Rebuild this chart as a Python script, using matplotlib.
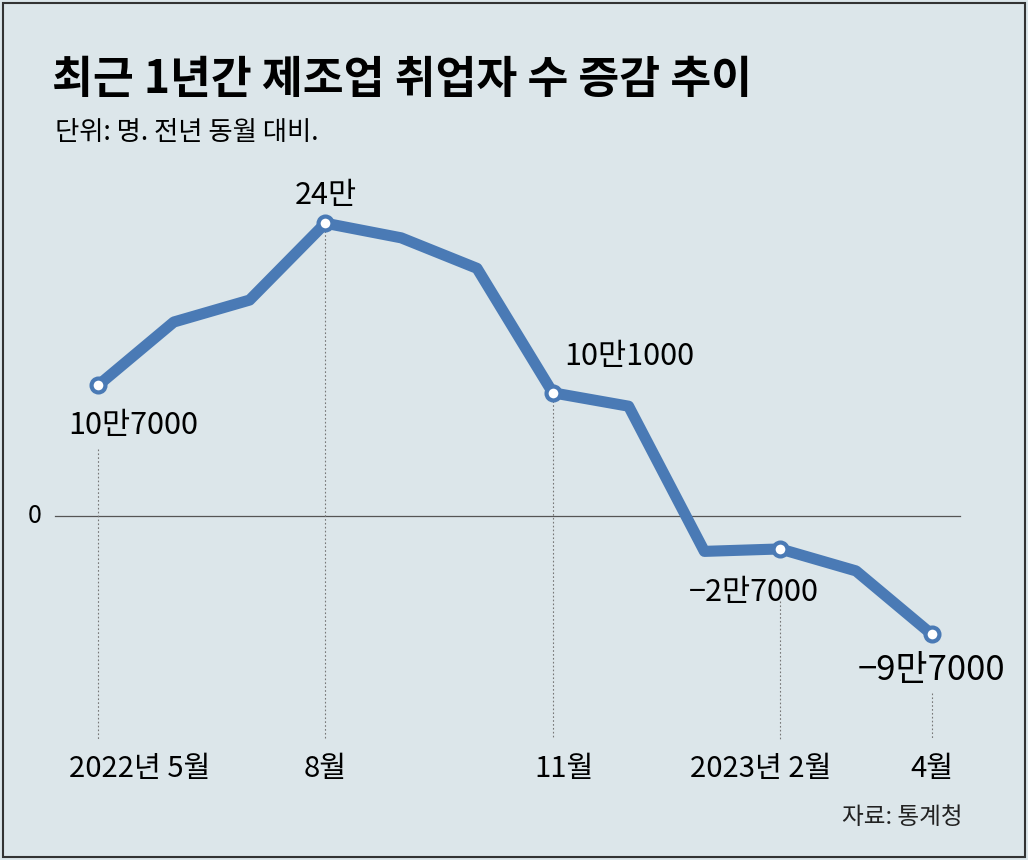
import matplotlib.pyplot as plt
plt.rcParams['font.family'] = ['Noto Sans CJK KR', 'DejaVu Sans']

months = ['2022-05','2022-06','2022-07','2022-08','2022-09','2022-10','2022-11','2022-12','2023-01','2023-02','2023-03','2023-04']
values = [10.7, 15.9, 17.7, 24.0, 22.8, 20.3, 10.1, 9.0, -2.9, -2.7, -4.5, -9.7]
labeled = {0: '10만7000', 3: '24만', 6: '10만1000', 9: '−2만7000', 11: '−9만7000'}
tick_idx = [0, 3, 6, 9, 11]
tick_labels = ['2022년 5월', '8월', '11월', '2023년 2월', '4월']

bg = '#dce6ea'
blue = '#4a7ab5'
fig = plt.figure(figsize=(10.28, 8.6), dpi=100, facecolor=bg)
ax = fig.add_axes([0, 0, 1, 1])
ax.set_facecolor(bg)
px = 75.8
ax.set_xlim(-98/px, (1028-98)/px)
sc = 12.2; z = 516
ax.set_ylim(-(860-z)/sc, z/sc)
ax.axis('off')

x = list(range(len(values)))
ax.axhline(0, xmin=55/1028, xmax=960/1028, color='#555', lw=0.9)
ax.text(-0.75, 0, '0', ha='right', va='center', fontsize=18)
bottom = -18.3
starts = {0: 5.5, 3: values[3], 6: values[6], 9: -7.0, 11: -14.5}
for i in tick_idx:
    ax.plot([i, i], [starts[i], bottom], ls=(0, (1.5, 2)), color='#777', lw=0.8)
ax.plot(x, values, color=blue, lw=8, solid_joinstyle='round', solid_capstyle='round', zorder=3)
ax.plot([i for i in labeled], [values[i] for i in labeled], 'o', ms=10, mfc='white', mec=blue, mew=3, zorder=4)
offs = {0: (0.47, -3.3, 'center'), 3: (0, 2.3, 'center'), 6: (0.15, 3.0, 'left'), 9: (-0.35, -3.6, 'center'), 11: (0, -3.0, 'center')}
for i, t in labeled.items():
    dx, dy, ha = offs[i]
    ax.text(i + dx, values[i] + dy, t, ha=ha, va='center', fontsize=22 if i != 11 else 25,
            fontweight='medium', zorder=5)
tdx = [0.55, 0, 0.15, -0.25, 0]
for i, t, d in zip(tick_idx, tick_labels, tdx):
    ax.text(i + d, -20.7, t, ha='center', va='center', fontsize=21)

fig.text(52/1028, 1-80/860, '최근 1년간 제조업 취업자 수 증감 추이', fontsize=32, fontweight='bold', va='center')
fig.text(55/1028, 1-133/860, '단위: 명. 전년 동월 대비.', fontsize=19, va='center')
fig.text(963/1028, 1-818/860, '자료: 통계청', fontsize=17, ha='right', va='center', color='#222')
fig.patches.append(plt.Rectangle((0.003, 0.003), 0.994, 0.994, transform=fig.transFigure, fill=False, ec='#333', lw=1.5))
fig.savefig('out.png', dpi=100, facecolor=bg)
